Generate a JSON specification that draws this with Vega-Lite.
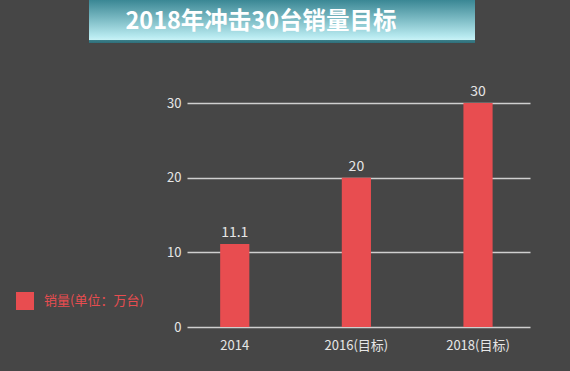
{
  "$schema": "https://vega.github.io/schema/vega-lite/v6.json",
  "background": "#464646",
  "padding": {"left": 16, "top": 0, "right": 40, "bottom": 22},
  "autosize": {"type": "pad"},
  "config": {
    "view": {"stroke": null},
    "font": "Noto Sans CJK SC",
    "concat": {"spacing": 42}
  },
  "datasets": {
    "title": [{"title": "2018年冲击30台销量目标"}],
    "sales": [
      {"year": "2014", "value": 11.1, "label": "11.1"},
      {"year": "2016(目标)", "value": 20, "label": "20"},
      {"year": "2018(目标)", "value": 30, "label": "30"}
    ]
  },
  "resolve": {"scale": {"color": "independent"}, "legend": {"color": "independent"}},
  "vconcat": [
    {
      "width": 386,
      "height": 43,
      "view": {
        "fill": {
          "gradient": "linear",
          "x1": 0, "y1": 0, "x2": 0, "y2": 1,
          "stops": [
            {"offset": 0, "color": "#3a8794"},
            {"offset": 0.85, "color": "#b8eaf0"},
            {"offset": 0.93, "color": "#c9f2f6"},
            {"offset": 0.94, "color": "#3a7d88"},
            {"offset": 1, "color": "#2f6f7a"}
          ]
        },
        "stroke": null
      },
      "data": {"name": "title"},
      "mark": {"type": "text", "fontSize": 23.5, "fontWeight": "bold", "color": "#ffffff", "dx": -21},
      "encoding": {"text": {"field": "title"}}
    },
    {
      "width": 441,
      "height": 224,
      "data": {"name": "sales"},
      "resolve": {"scale": {"color": "shared"}, "legend": {"color": "shared"}},
      "encoding": {
        "x": {
          "field": "year",
          "type": "nominal",
          "sort": null,
          "scale": {"range": [98, 441], "paddingInner": 0.76, "paddingOuter": 0.29, "align": 0.47},
          "axis": {
            "title": null,
            "labelAngle": 0,
            "domain": false,
            "ticks": false,
            "grid": false,
            "labelPadding": 12,
            "labelFontSize": 13,
            "labelColor": "#e6e6e6"
          }
        },
        "y": {
          "field": "value",
          "type": "quantitative",
          "scale": {"domain": [0, 30], "nice": false},
          "axis": {
            "title": null,
            "values": [0, 10, 20, 30],
            "offset": -98,
            "grid": true,
            "gridColor": "#cfcfcf",
            "gridWidth": 1.5,
            "domain": false,
            "ticks": false,
            "labelPadding": 6,
            "labelFontSize": 13,
            "labelColor": "#e6e6e6"
          }
        }
      },
      "layer": [
        {
          "mark": {"type": "bar", "color": "#e84d50"},
          "encoding": {
            "color": {
              "datum": "销量(单位：万台)",
              "scale": {"range": ["#e84d50"]},
              "legend": {
                "title": null,
                "orient": "none",
                "legendX": -73,
                "legendY": 189,
                "symbolType": "square",
                "symbolSize": 324,
                "symbolStrokeWidth": 0,
                "symbolOpacity": 1,
                "labelColor": "#e84d50",
                "labelFontSize": 13,
                "labelOffset": 10
              }
            }
          }
        },
        {
          "mark": {"type": "text", "dy": -7, "baseline": "alphabetic", "fontSize": 14, "color": "#e6e6e6"},
          "encoding": {"text": {"field": "label"}}
        }
      ]
    }
  ]
}
